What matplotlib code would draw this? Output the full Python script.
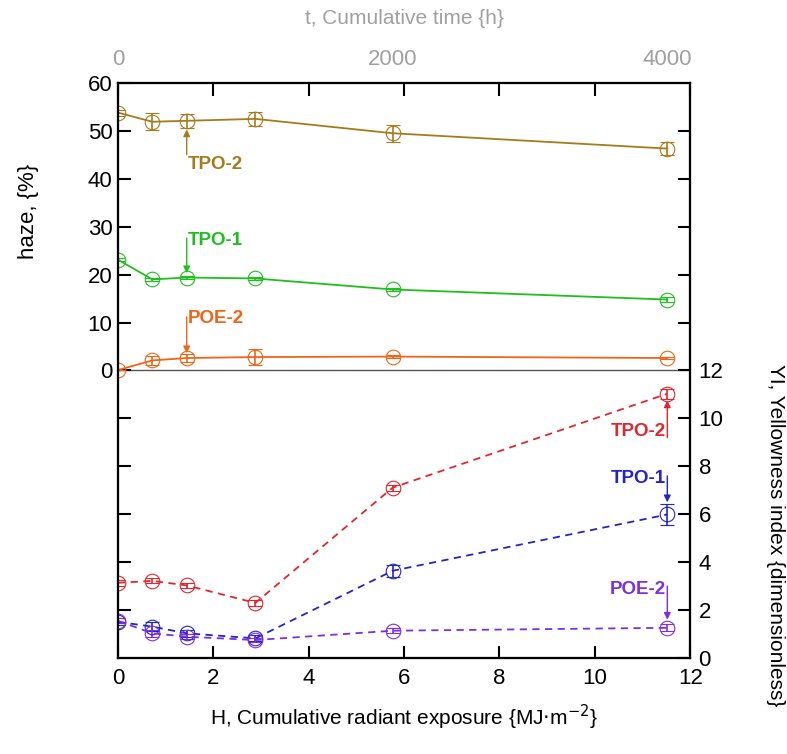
import matplotlib
matplotlib.use("Agg")
import matplotlib.pyplot as plt

plt.rcParams['font.family'] = ['Liberation Sans', 'DejaVu Sans']

# cumulative radiant exposure H {MJ m^-2}
H = [0, 0.72, 1.44, 2.88, 5.76, 11.52]

# haze {%}
haze_tpo2 = [53.8, 51.9, 52.1, 52.5, 49.5, 46.3]
haze_tpo2_err = [0.6, 1.75, 1.5, 1.4, 1.8, 1.4]
haze_tpo1 = [23.1, 19.0, 19.4, 19.2, 16.9, 14.8]
haze_tpo1_err = [0.3, 0.3, 0.3, 0.3, 0.3, 0.5]
haze_poe2 = [0.1, 2.1, 2.6, 2.8, 2.9, 2.6]
haze_poe2_err = [0.1, 1.0, 0.8, 1.6, 0.4, 0.3]

# yellowness index
yi_tpo2 = [3.14, 3.22, 3.03, 2.30, 7.11, 11.03]
yi_tpo2_err = [0.12, 0.1, 0.1, 0.12, 0.12, 0.2]
yi_tpo1 = [1.51, 1.31, 1.03, 0.82, 3.64, 5.99]
yi_tpo1_err = [0.15, 0.2, 0.15, 0.12, 0.26, 0.45]
yi_poe2 = [1.55, 1.03, 0.89, 0.75, 1.14, 1.26]
yi_poe2_err = [0.1, 0.15, 0.1, 0.1, 0.1, 0.15]

# top axis: 4000 h sits at the last exposure point
time_ticks = [0, 2000, 4000]
time_max = 4166.7

C_TPO2_H = '#a57c1b'
C_TPO1_H = '#1fbf1f'
C_POE2_H = '#ef6518'
C_TPO2_Y = '#e3262d'
C_TPO1_Y = '#2424c8'
C_POE2_Y = '#7d2fe0'
GRAY = '#a0a0a0'

fig = plt.figure(figsize=(7.87, 7.54), dpi=100)
ax = fig.add_axes([0.150, 0.1273, 0.727, 0.7627])
ax2 = ax.twinx()
ax3 = ax.twiny()


def series(a, x, y, e, c, ls):
    a.errorbar(x, y, yerr=e, color=c, ls=ls, lw=1.3, marker='o', ms=10.5,
               mfc='none', mec=c, mew=0.8, capsize=5, elinewidth=1.2,
               capthick=1.2, dashes=(4, 3) if ls == '--' else (None, None))


def label(a, txt, xy_text, xy_from, xy_to, c, ha):
    a.annotate('', xy=xy_to, xytext=xy_from,
               arrowprops=dict(arrowstyle='-|>', color=c, lw=1,
                               mutation_scale=10, shrinkA=0, shrinkB=0))
    a.text(xy_text[0], xy_text[1], txt, color=c, fontsize=13.5,
           fontweight='bold', ha=ha, va='center')


series(ax, H, haze_tpo2, haze_tpo2_err, C_TPO2_H, '-')
series(ax, H, haze_tpo1, haze_tpo1_err, C_TPO1_H, '-')
series(ax, H, haze_poe2, haze_poe2_err, C_POE2_H, '-')
ax.axhline(0, color='#555555', lw=1, zorder=0)

series(ax2, H, yi_tpo2, yi_tpo2_err, C_TPO2_Y, '--')
series(ax2, H, yi_tpo1, yi_tpo1_err, C_TPO1_Y, '--')
series(ax2, H, yi_poe2, yi_poe2_err, C_POE2_Y, '--')

label(ax, 'TPO-2', (1.46, 43.0), (1.44, 45.0), (1.44, 50.3), C_TPO2_H, 'left')
label(ax, 'TPO-1', (1.46, 27.2), (1.44, 27.6), (1.44, 20.3), C_TPO1_H, 'left')
label(ax, 'POE-2', (1.46, 10.8), (1.44, 11.2), (1.44, 3.6), C_POE2_H, 'left')

label(ax2, 'TPO-2', (11.5, 9.45), (11.52, 9.2), (11.52, 10.75), C_TPO2_Y, 'right')
label(ax2, 'TPO-1', (11.5, 7.5), (11.52, 7.6), (11.52, 6.5), C_TPO1_Y, 'right')
label(ax2, 'POE-2', (11.5, 2.85), (11.52, 3.0), (11.52, 1.6), C_POE2_Y, 'right')

# axes limits / ticks
ax.set_xlim(0, 12)
ax.set_ylim(-60, 60)
ax2.set_ylim(0, 24)
ax3.set_xlim(0, time_max)

ax.set_xticks(range(0, 13, 2))
haze_ticks = list(range(-50, 61, 10))
ax.set_yticks(haze_ticks)
ax.set_yticklabels([str(v) if v >= 0 else '' for v in haze_ticks])
yi_ticks = list(range(0, 23, 2))
ax2.set_yticks(yi_ticks)
ax2.set_yticklabels([str(v) if v <= 12 else '' for v in yi_ticks])

ax.tick_params(axis='both', direction='in', length=9, width=1.5,
               labelsize=16, top=True, pad=7)
ax.tick_params(axis='y', pad=4)
ax2.tick_params(axis='y', direction='in', length=9, width=1.5,
                labelsize=16, pad=6)
ax3.set_xticks(time_ticks)
ax3.tick_params(axis='x', length=0, labelsize=16, labelcolor=GRAY, pad=9)

for a in (ax, ax2, ax3):
    for s in a.spines.values():
        s.set_linewidth(1.5)
        s.set_color('black')

narrow = ['Liberation Sans Narrow', 'Liberation Sans', 'DejaVu Sans']
ax.set_xlabel(r'H, Cumulative radiant exposure {MJ$\cdot$m$^{-2}$}',
              fontsize=15, family=narrow, labelpad=10)
ax3.set_xlabel('t, Cumulative time {h}', fontsize=15, color=GRAY,
               family=narrow, labelpad=18)
fig.text(0.036, 0.72, 'haze, {%}', rotation=90, fontsize=16, family=narrow,
         ha='center', va='center')
fig.text(0.985, 0.29, 'YI, Yellowness index {dimensionless}', rotation=-90,
         fontsize=15, family=narrow, ha='center', va='center')

fig.savefig('out.png', dpi=100)
